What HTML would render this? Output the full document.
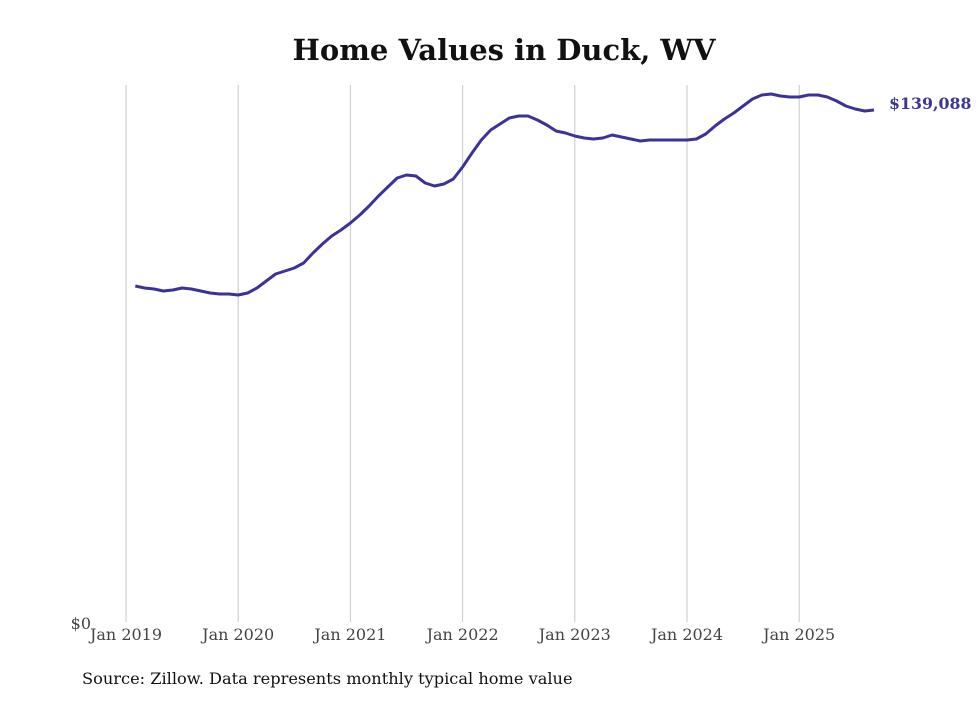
<!DOCTYPE html>
<html><head><meta charset="utf-8"><style>
body{margin:0;background:#fff;width:980px;height:699px;overflow:hidden;font-family:"DejaVu Serif","Liberation Serif",serif}
</style></head><body>
<svg id="chart" width="980" height="699" xmlns="http://www.w3.org/2000/svg">
<text x="504" y="60" text-anchor="middle" font-size="29" font-weight="bold" fill="#111">Home Values in Duck, WV</text>
<g id="grid"></g><g id="xaxis"></g>
<text x="91" y="629" text-anchor="end" font-size="16" fill="#444">$0</text>
<path id="line" fill="none" stroke="#3b3399" stroke-width="3" stroke-linejoin="round"/>
<text id="lastlabel" font-size="15.8" font-weight="bold" fill="#3b3597"></text>
<text x="82" y="684" font-size="16.2" fill="#111">Source: Zillow. Data represents monthly typical home value</text>
</svg>
<script>
const startYear = 2019, startMonth = 1; // Feb 2019 (0-based month)
const tickLabels = ["Jan 2019","Jan 2020","Jan 2021","Jan 2022","Jan 2023","Jan 2024","Jan 2025"];
const values = [91278,90734,90463,89919,90191,90734,90463,89919,89376,89104,89104,
88833,89376,90734,92636,94538,95353,96168,97526,100243,102688,104861,106491,
108392,110566,113011,115727,118172,120617,121432,121160,119259,118444,118987,120345,
123605,127409,130940,133657,135287,136917,137460,137460,136373,135015,133385,132842,
132027,131483,131212,131483,132298,131755,131212,130668,130940,130940,130940,130940,
130940,131212,132570,134743,136645,138275,140177,142078,143165,143436,142893,142621,
142621,143165,143165,142621,141535,140177,139361,138818,139088];
const NS="http://www.w3.org/2000/svg";
const x0=126, pxYear=112.2, yBase=622, pxPerDollar=512/139088;
const xScale=m=>x0+m*pxYear/12;
const yScale=v=>yBase-v*pxPerDollar;
const grid=document.getElementById('grid'), xa=document.getElementById('xaxis');
tickLabels.forEach((t,i)=>{
  const x=xScale(i*12);
  const l=document.createElementNS(NS,'line');
  l.setAttribute('x1',x);l.setAttribute('x2',x);l.setAttribute('y1',85);l.setAttribute('y2',622);
  l.setAttribute('stroke','#c8c8c8');l.setAttribute('stroke-width','1');
  
  
  grid.appendChild(l);
  const tx=document.createElementNS(NS,'text');
  tx.setAttribute('x',x);tx.setAttribute('y',640);tx.setAttribute('text-anchor','middle');
  tx.setAttribute('font-size','16');tx.setAttribute('fill','#444');tx.textContent=t;
  
  
  xa.appendChild(tx);
});
let d='';
values.forEach((v,i)=>{d+=(i?'L':'M')+xScale(startMonth+i).toFixed(1)+','+yScale(v).toFixed(1);});
document.getElementById('line').setAttribute('d',d);
const last=values[values.length-1], lx=xScale(startMonth+values.length-1);
const lab=document.getElementById('lastlabel');
lab.setAttribute('x',lx+15);lab.setAttribute('y',yScale(last)-1);
lab.textContent='$'+last.toLocaleString('en-US');
</script>
</body></html>
